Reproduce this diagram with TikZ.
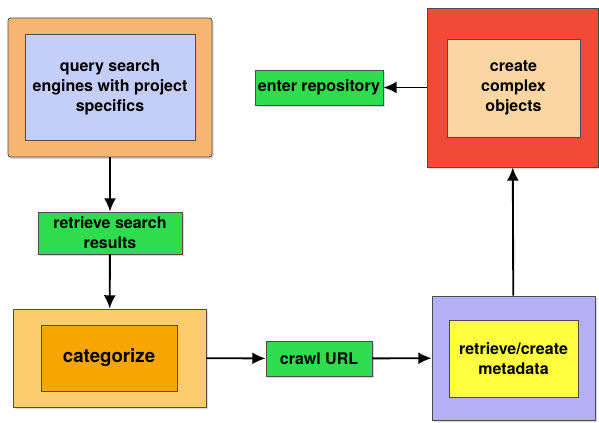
\documentclass[tikz,border=0pt]{standalone}
\usepackage{fontspec}
\setmainfont{TeX Gyre Heros}
\usetikzlibrary{arrows.meta,shadows}
\definecolor{qorange}{HTML}{F8B471}
\definecolor{qblue}{HTML}{C5CEF8}
\definecolor{stepgreen}{HTML}{2EDD4E}
\definecolor{catouter}{HTML}{FCCB6C}
\definecolor{catinner}{HTML}{F8A500}
\definecolor{metaouter}{HTML}{B3B0F7}
\definecolor{metainner}{HTML}{FFFF3F}
\definecolor{objouter}{HTML}{F34A35}
\definecolor{objinner}{HTML}{FBD6A3}
\begin{document}
\begin{tikzpicture}[x=0.75pt, y=-0.75pt,
  every node/.style={font=\bfseries\fontsize{12}{15}\selectfont, align=center},
  outer/.style={draw=black!70, line width=0.6pt, inner sep=0pt, drop shadow={opacity=0.3, shadow xshift=1.2pt, shadow yshift=-1.5pt}},
  inner/.style={draw=black!70, line width=0.5pt, inner sep=1pt},
  stepbox/.style={draw=black!70, line width=0.6pt, fill=stepgreen, inner sep=1pt, drop shadow={opacity=0.3, shadow xshift=1.2pt, shadow yshift=-1.5pt}},
  flow/.style={line width=1.4pt, -{Latex[length=10pt,width=9pt]}}]
\useasboundingbox (0,0) rectangle (599,423);
% query
\node[outer, fill=qorange, rounded corners=2pt, minimum width=153pt, minimum height=104.25pt] (query) at (110,87.5) {};
\node[inner, fill=qblue, minimum width=127.5pt, minimum height=79.5pt] (queryin) at (110,87) {query search\\engines with project\\specifics};
% retrieve search results
\node[stepbox, minimum width=108pt, minimum height=31.5pt] (results) at (110,233) {retrieve search\\results};
% categorize
\node[outer, fill=catouter, minimum width=144.75pt, minimum height=73.5pt] (cat) at (109.5,358) {};
\node[inner, fill=catinner, minimum width=102pt, minimum height=49.5pt, font=\bfseries\fontsize{14}{16}\selectfont] (catin) at (109,358) {categorize};
% crawl
\node[stepbox, minimum width=79.5pt, minimum height=26.25pt] (crawl) at (319,358.5) {crawl URL};
% metadata
\node[outer, fill=metaouter, minimum width=122.25pt, minimum height=93pt] (meta) at (513.5,358) {};
\node[inner, fill=metainner, minimum width=96.75pt, minimum height=57.75pt] (metain) at (513.5,358.5) {retrieve/create\\metadata};
% complex objects
\node[outer, fill=objouter, minimum width=128.25pt, minimum height=119.25pt] (obj) at (512.5,87.5) {};
\node[inner, fill=objinner, minimum width=99.75pt, minimum height=73.5pt] (objin) at (513.5,88) {create\\complex\\objects};
% repository
\node[stepbox, minimum width=96pt, minimum height=26.25pt] (repo) at (319,87.5) {enter repository};
% arrows
\draw[flow] (query) -- (results);
\draw[flow] (results) -- (cat);
\draw[flow] (cat) -- (crawl);
\draw[flow] (crawl) -- (meta);
\draw[flow] (meta) -- (obj);
\draw[flow] (obj) -- (repo);
\end{tikzpicture}
\end{document}
